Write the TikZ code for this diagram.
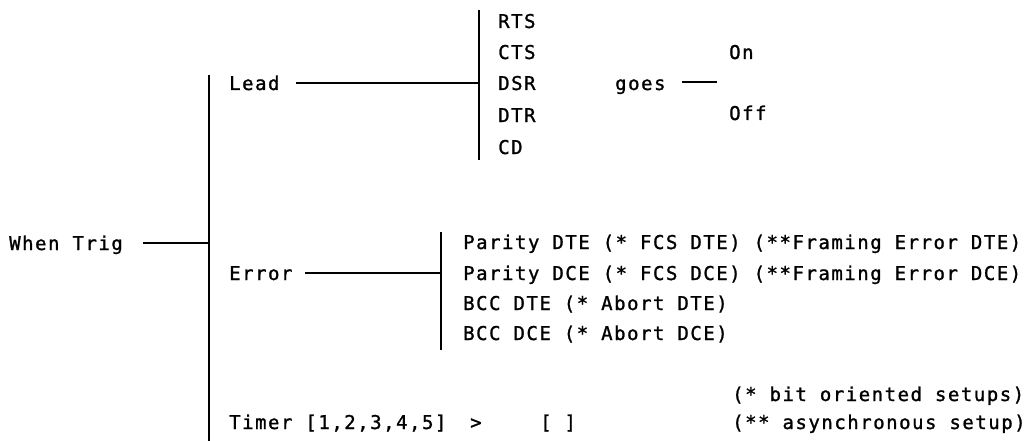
\documentclass[tikz,border=0pt]{standalone}
\usepackage{fontspec}
\newfontfamily\prn[LetterSpace=8,FakeBold=1.2]{DejaVu Sans Mono}
\begin{document}
\begin{tikzpicture}[x=1pt,y=-1pt,
  lbl/.style={anchor=base west,inner sep=0pt,font=\prn\fontsize{19}{19}\selectfont},
  ln/.style={line width=1.8pt}]
\useasboundingbox[fill=white] (0,0) rectangle (1027,441);
% level 0
\node[lbl] (wt) at (9,250) {When Trig};
\coordinate (wtL) at (143,243);
\coordinate (b1t) at (209,75);
\coordinate (b1b) at (209,441);
\draw[ln] (b1t) -- (b1b);
\draw[ln] (wtL) -- (wtL -| b1t);
% Lead
\node[lbl] (lead) at (229,90) {Lead};
\coordinate (leadL) at (296,83);
\coordinate (b2t) at (479,10);
\coordinate (b2b) at (479,160);
\draw[ln] (b2t) -- (b2b);
\draw[ln] (leadL) -- (leadL -| b2t);
\node[lbl] (rts) at (498,28) {RTS};
\node[lbl] (cts) at (498,59) {CTS};
\node[lbl] (dsr) at (498,90) {DSR};
\node[lbl] (dtr) at (498,122) {DTR};
\node[lbl] (cd) at (498,154) {CD};
\node[lbl] (goes) at (615,90) {goes};
\coordinate (gL) at (682,82);
\coordinate (gR) at (717,82);
\draw[ln] (gL) -- (gR);
\node[lbl] (on) at (729,59) {On};
\node[lbl] (off) at (729,120) {Off};
% Error
\node[lbl] (err) at (229,280) {Error};
\coordinate (errL) at (305,273);
\coordinate (b3t) at (441,232);
\coordinate (b3b) at (441,350);
\draw[ln] (b3t) -- (b3b);
\draw[ln] (errL) -- (errL -| b3t);
\node[lbl] (p1) at (463,249) {Parity DTE (* FCS DTE) (**Framing Error DTE)};
\node[lbl] (p2) at (463,280) {Parity DCE (* FCS DCE) (**Framing Error DCE)};
\node[lbl] (p3) at (463,310) {BCC DTE (* Abort DTE)};
\node[lbl] (p4) at (463,340) {BCC DCE (* Abort DCE)};
% Timer
\node[lbl] (tim) at (229,429) {Timer [1,2,3,4,5]};
\node[lbl] (gt) at (470,429) {>};
\node[lbl] (br) at (540,429) {[ ]};
\node[lbl] (n1) at (732,401) {(* bit oriented setups)};
\node[lbl] (n2) at (732,429) {(** asynchronous setup)};
\end{tikzpicture}
\end{document}
